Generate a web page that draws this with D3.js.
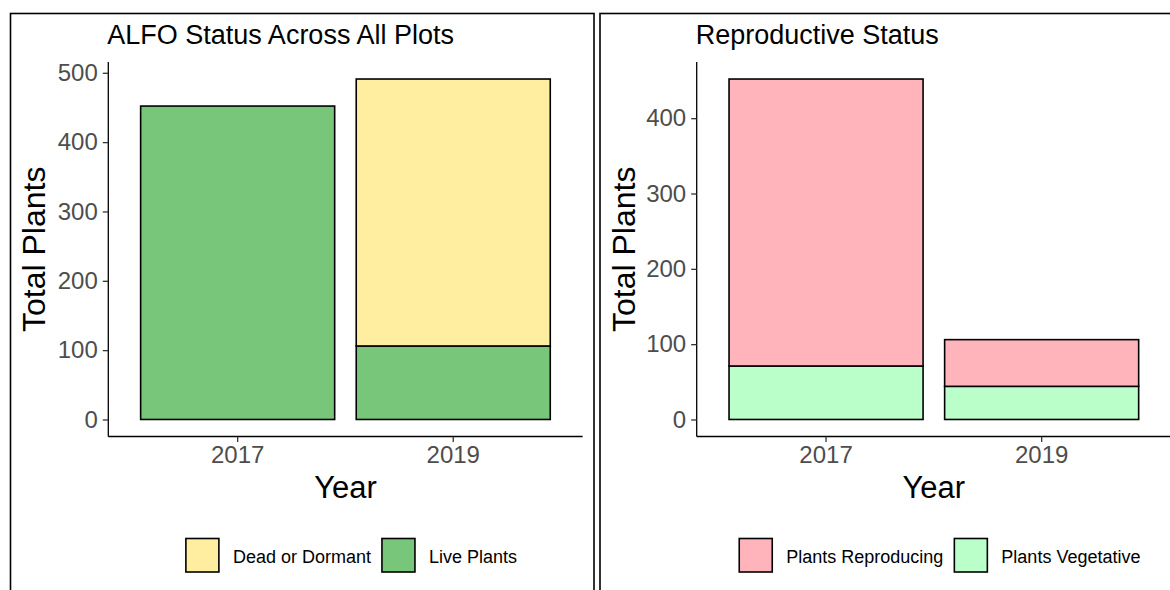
<!DOCTYPE html>
<html>
    <head>
        <title>ALFO status</title>
        <meta http-equiv="Content-Type" content="text/html; charset=UTF-8">
        <!-- d3.js -->
        <script src="https://d3js.org/d3.v7.min.js"></script>
        <style>
            body { margin: 0; background: white; }
            svg { display: block; font-family: "Liberation Sans", Arial, sans-serif; }
        </style>
    </head>
    <body>
        <div id="chart"></div>
        <script>
            // data
            var years = ["2017", "2019"];

            // left chart: status of all plants
            var livePlants = [452, 106];
            var deadDormant = [0, 385];

            // right chart: reproductive status of the live plants
            var plantsVegetative = [71, 44];
            var plantsReproducing = [381, 62];

            var leftTicks = [0, 100, 200, 300, 400, 500];
            var rightTicks = [0, 100, 200, 300, 400];

            var svg = d3.select("#chart")
                .append("svg")
                    .attr("width", 1170)
                    .attr("height", 590);

            // draws one panel: border, title, stacked bars, axes and legend
            // series are listed bottom first
            function drawPanel(p) {
                var g = svg.append("g");

                // panel border (runs off the bottom / right like the original)
                g.append("rect")
                    .attr("x", p.boxX)
                    .attr("y", 13.5)
                    .attr("width", p.boxW)
                    .attr("height", 620)
                    .attr("fill", "none")
                    .attr("stroke", "black")
                    .attr("stroke-width", 1.6);

                // table for d3.stack
                var rows = years.map(function(yr, i) {
                    var r = { year: yr };
                    p.series.forEach(function(s) { r[s.name] = s.values[i]; });
                    return r;
                });
                var keys = p.series.map(function(s) { return s.name; });
                var stacked = d3.stack().keys(keys)(rows);
                var maxTotal = d3.max(stacked[stacked.length - 1], function(d) { return d[1]; });

                // x: band scale laid out like ggplot (bar width 0.9, 0.6 expansion)
                var x = d3.scaleBand()
                    .domain(years)
                    .range([p.left, p.right])
                    .paddingInner(0.1)
                    .paddingOuter(0.15);

                // y: 5% expansion both ends
                var y = d3.scaleLinear()
                    .domain([-0.05 * maxTotal, 1.05 * maxTotal])
                    .range([436.5, 62]);

                // bars
                stacked.forEach(function(layer, li) {
                    g.append("g")
                        .selectAll("rect")
                        .data(layer.filter(function(d) { return d[1] - d[0] > 0; }))
                        .enter()
                        .append("rect")
                            .attr("x", function(d) { return x(d.data.year); })
                            .attr("y", function(d) { return y(d[1]); })
                            .attr("width", x.bandwidth())
                            .attr("height", function(d) { return y(d[0]) - y(d[1]); })
                            .attr("fill", p.series[li].color)
                            .attr("stroke", "black")
                            .attr("stroke-width", 1.6);
                });

                // y axis
                var yAxis = g.append("g")
                    .attr("transform", "translate(" + p.left + ",0)")
                    .call(d3.axisLeft(y).tickValues(p.ticks).tickSize(5.5).tickPadding(5).tickSizeOuter(0));

                // x axis
                var xAxis = g.append("g")
                    .attr("transform", "translate(0,436.5)")
                    .call(d3.axisBottom(x).tickSize(5.5).tickPadding(4).tickSizeOuter(0));

                [yAxis, xAxis].forEach(function(ax) {
                    ax.select(".domain").attr("stroke", "black").attr("stroke-width", 1.3);
                    ax.selectAll(".tick line").attr("stroke", "#333333").attr("stroke-width", 1.3);
                    ax.selectAll(".tick text")
                        .attr("fill", "#4D4D4D")
                        .style("font-size", "24px")
                        .style("font-family", "'Liberation Sans', Arial, sans-serif");
                });
                // x-axis line spans the full expanded range
                xAxis.select(".domain").attr("d", "M" + p.left + ",0H" + p.right);
                yAxis.select(".domain").attr("d", "M0," + y.range()[0] + "V" + y.range()[1]);

                // title
                g.append("text")
                    .attr("x", p.left - 1)
                    .attr("y", 44)
                    .attr("fill", "black")
                    .style("font-size", "27px")
                    .text(p.title);

                // axis titles
                var mid = (p.left + p.right) / 2;
                g.append("text")
                    .attr("x", mid)
                    .attr("y", 498)
                    .attr("text-anchor", "middle")
                    .style("font-size", "31px")
                    .text("Year");

                g.append("text")
                    .attr("transform", "translate(" + p.yTitleX + "," + (y.range()[0] + y.range()[1]) / 2 + ") rotate(-90)")
                    .attr("text-anchor", "middle")
                    .style("font-size", "32px")
                    .text("Total Plants");

                // legend (listed top series first), centred under the plot
                var legend = g.append("g");
                var items = p.series.slice().reverse();
                var xPos = 0;
                items.forEach(function(s, i) {
                    var item = legend.append("g").attr("transform", "translate(" + xPos + ",0)");
                    item.append("rect")
                        .attr("x", 0)
                        .attr("y", 538.5)
                        .attr("width", 33)
                        .attr("height", 33.5)
                        .attr("fill", s.color)
                        .attr("stroke", "black")
                        .attr("stroke-width", 1.6);
                    var t = item.append("text")
                        .attr("x", 47)
                        .attr("y", 562.5)
                        .style("font-size", "18px")
                        .text(s.label);
                    xPos += 47 + t.node().getComputedTextLength() + 11;
                });
                var legendW = xPos - 11;
                legend.attr("transform", "translate(" + (mid + 6 - legendW / 2) + ",0)");
            }

            drawPanel({
                boxX: 10.5, boxW: 583.5,
                left: 108.3, right: 582.6,
                yTitleX: 45,
                title: "ALFO Status Across All Plots",
                ticks: leftTicks,
                series: [
                    { name: "live", label: "Live Plants", values: livePlants, color: "#78C679" },
                    { name: "dead", label: "Dead or Dormant", values: deadDormant, color: "#FFEDA0" }
                ]
            });

            drawPanel({
                boxX: 600, boxW: 600,
                left: 696.7, right: 1171,
                yTitleX: 635,
                title: "Reproductive Status",
                ticks: rightTicks,
                series: [
                    { name: "veg", label: "Plants Vegetative", values: plantsVegetative, color: "#BAFFC9" },
                    { name: "rep", label: "Plants Reproducing", values: plantsReproducing, color: "#FFB3BA" }
                ]
            });
        </script>
    </body>
</html>
